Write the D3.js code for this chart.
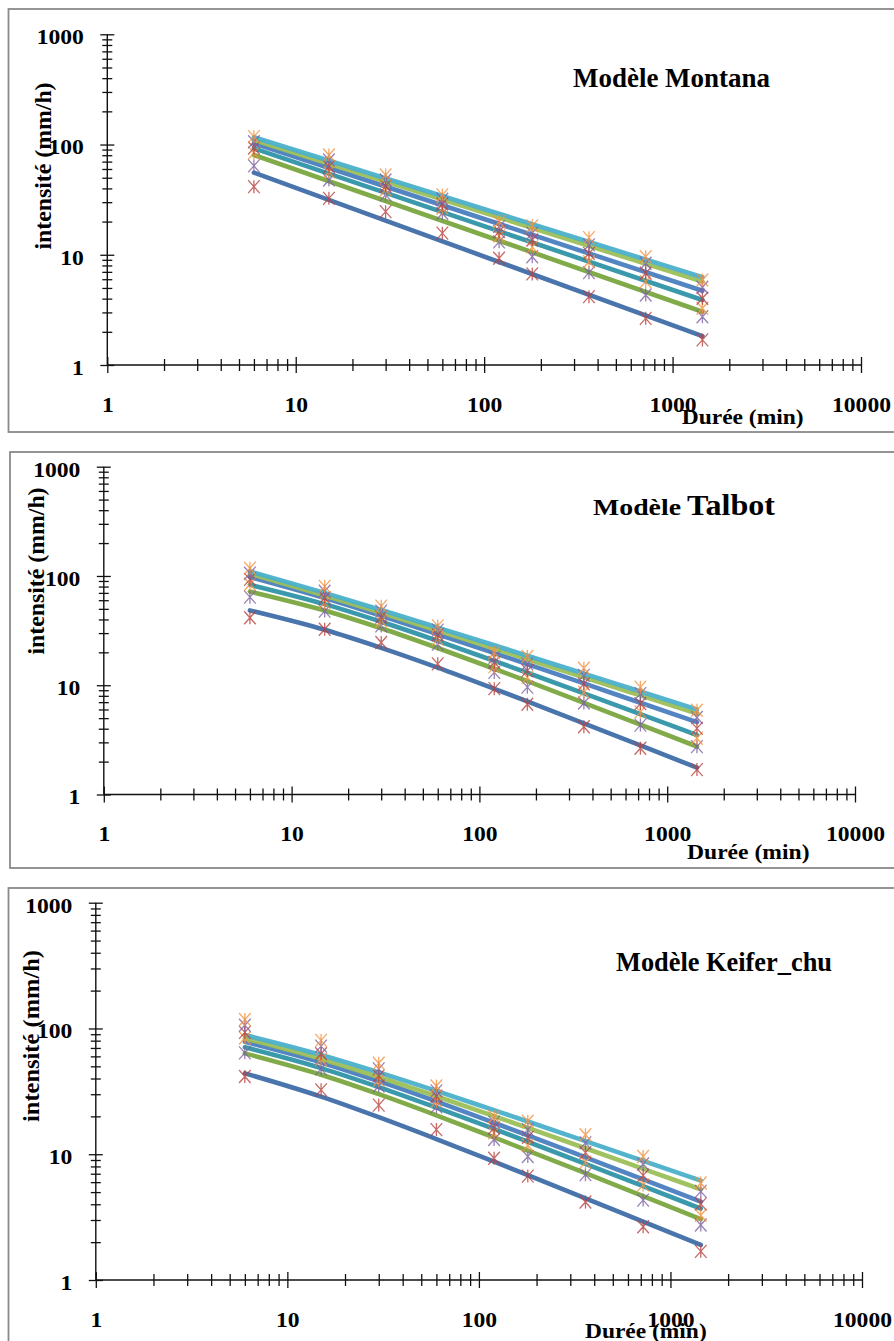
<!DOCTYPE html>
<html>
<head>
<meta charset="utf-8">
<script src="https://cdn.jsdelivr.net/npm/d3@7"></script>
<style>
  body { margin: 0; background: #fff; }
  svg { display: block; }
  text { font-family: "Liberation Serif", "Times New Roman", serif; font-weight: bold; fill: #000; }
</style>
</head>
<body>
<svg id="chart" width="894" height="1341"></svg>
<script>
// Durations (min) at which intensities were observed
const durees = [6, 15, 30, 60, 120, 180, 360, 720, 1440];

// Observed intensities (mm/h), one array per return period, lowest to highest
const obs1 = [41.5, 32.5, 24.6, 15.7, 9.3, 6.7, 4.17, 2.65, 1.69];
const obs2 = [64, 47.7, 34.9, 23.8, 13.1, 9.6, 6.88, 4.32, 2.74];
const obs3 = [84, 56.7, 38.7, 26.4, 14.8, 11.8, 8.65, 5.7, 3.27];
const obs4 = [93, 63, 42, 28.9, 16.2, 13.6, 10.3, 6.79, 4.03];
const obs5 = [106, 72.4, 47.7, 31.9, 18, 15.7, 12.3, 8.37, 5.07];
const obs6 = [117.8, 80.4, 52.9, 34.9, 19.95, 18.3, 14.3, 9.6, 5.9];

// Montana fits are straight in log-log space: values at both ends of the range
const dureesMontana = [6, 1440];
const montana1 = [55.6, 1.83];
const montana2 = [80.4, 3.04];
const montana3 = [92.4, 3.89];
const montana4 = [102.6, 4.72];
const montana5 = [110, 5.7];
const montana6 = [116.4, 6.25];

// Talbot fitted intensities at each duration
const talbot1 = [48.4, 32.2, 22.0, 14.5, 9.28, 7.11, 4.48, 2.81, 1.76];
const talbot2 = [72, 48.3, 33.2, 21.9, 14.15, 10.9, 6.91, 4.36, 2.75];
const talbot3 = [83, 55.2, 38.1, 25.5, 16.7, 13.0, 8.42, 5.43, 3.5];
const talbot4 = [98, 62.9, 43.3, 29.3, 19.7, 15.6, 10.4, 6.91, 4.6];
const talbot5 = [104.8, 66.3, 46.0, 31.6, 21.7, 17.3, 11.83, 8.07, 5.5];
const talbot6 = [110, 70.0, 48.8, 33.7, 23.2, 18.63, 12.78, 8.76, 6.0];

// Keifer-Chu fitted intensities at each duration
const keifer1 = [44, 28.7, 19.7, 13.2, 8.72, 6.82, 4.46, 2.91, 1.9];
const keifer2 = [63.4, 42.9, 30.05, 20.4, 13.6, 10.7, 7.07, 4.65, 3.05];
const keifer3 = [70.8, 48.4, 34.2, 23.5, 15.9, 12.57, 8.38, 5.57, 3.7];
const keifer4 = [78.4, 53.7, 38.1, 26.3, 17.8, 14.12, 9.45, 6.31, 4.2];
const keifer5 = [83.4, 57.2, 41.1, 28.9, 20.1, 16.19, 11.15, 7.66, 5.26];
const keifer6 = [88.6, 61.6, 44.8, 31.9, 22.4, 18.2, 12.7, 8.85, 6.16];

// Axis ticks
const xMajor = [1, 10, 100, 1000, 10000];
const yMajor = [1, 10, 100, 1000];
const xMinor = [2,3,4,5,6,7,8,9,20,30,40,50,60,70,80,90,200,300,400,500,600,700,800,900,2000,3000,4000,5000,6000,7000,8000,9000];
const yMinor = [2,3,4,5,6,7,8,9,20,30,40,50,60,70,80,90,200,300,400,500,600,700,800,900];

// Axis titles
const yTitle = "intensité (mm/h)";
const xTitle = "Durée (min)";

const observed = [obs1, obs2, obs3, obs4, obs5, obs6];
const lineColors = ["#3F6EA8", "#7AA73F", "#2F94A7", "#4B7EC0", "#9CBF57", "#4BB0CA"];
const markerColors = ["#B8423F", "#7E62A3", "#F4923F", "#B8423F", "#7E62A3", "#F4923F"];

const panels = [
  { frameX: 8.5, frameY: 9, frameB: 432, x0: 107.3, x1: 861, yTop: 34.3, yBot: 365,
    yLab: [51, 166, 167], xLab: [681.7, 424, 122],
    title: [{ t: "Modèle Montana", size: 28, x: 573, w: 197 }], titleY: 87,
    xs: dureesMontana, fits: [montana1, montana2, montana3, montana4, montana5, montana6], smooth: false },
  { frameX: 10, frameY: 452, frameB: 868, x0: 103.8, x1: 855, yTop: 466.7, yBot: 794.5,
    yLab: [44, 571, 167], xLab: [687, 859, 122.5],
    title: [{ t: "Modèle", size: 24, x: 593, w: 88 }, { t: "Talbot", size: 30, x: 687, w: 88 }], titleY: 515,
    xs: durees, fits: [talbot1, talbot2, talbot3, talbot4, talbot5, talbot6], smooth: true },
  { frameX: 8.5, frameY: 888, frameB: 1400, x0: 95.8, x1: 862, yTop: 902.7, yBot: 1280,
    yLab: [38.5, 1036, 172], xLab: [585, 1338, 121.7],
    title: [{ t: "Modèle Keifer_chu", size: 27, x: 616, w: 216 }], titleY: 971,
    xs: durees, fits: [keifer1, keifer2, keifer3, keifer4, keifer5, keifer6], smooth: true }
];

const svg = d3.select("#chart");
svg.append("rect").attr("width", 894).attr("height", 1341).attr("fill", "#fff");

const star = "M0,-6.5V6.5M-5.8,-6.5L5.8,6.5M-5.8,6.5L5.8,-6.5";
const SX = 1.18;

panels.forEach(p => {
  const g = svg.append("g");

  g.append("rect")
    .attr("x", p.frameX).attr("y", p.frameY)
    .attr("width", 960).attr("height", p.frameB - p.frameY)
    .attr("fill", "none").attr("stroke", "#8a8a8a").attr("stroke-width", 1.8);

  const x = d3.scaleLog().domain([1, 10000]).range([p.x0, p.x1]);
  const y = d3.scaleLog().domain([1, 1000]).range([p.yBot, p.yTop]);

  // x axis
  const xa = g.append("g").attr("transform", `translate(0,${p.yBot})`)
    .call(d3.axisBottom(x).tickValues(xMajor.concat(xMinor))
      .tickFormat(d => xMajor.includes(d) ? String(d) : "").tickSizeOuter(0));
  xa.select(".domain").attr("stroke", "#111").attr("stroke-width", 1.4).attr("d", `M${p.x0},0H${p.x1}`);
  xa.selectAll(".tick line").attr("stroke", "#111").attr("stroke-width", 1.3)
    .attr("y1", d => xMajor.includes(d) ? -8 : -6).attr("y2", d => xMajor.includes(d) ? 8 : 6);
  xa.selectAll(".tick text").attr("font-size", 20).attr("fill", "#000")
    .attr("font-family", null).attr("y", 47).attr("dy", null)
    .attr("transform", `scale(${SX},1)`);

  // y axis
  const ya = g.append("g").attr("transform", `translate(${p.x0},0)`)
    .call(d3.axisLeft(y).tickValues(yMajor.concat(yMinor))
      .tickFormat(d => yMajor.includes(d) ? String(d) : "").tickSizeOuter(0));
  ya.select(".domain").attr("stroke", "#111").attr("stroke-width", 1.4).attr("d", `M0,${p.yTop}V${p.yBot}`);
  ya.selectAll(".tick line").attr("stroke", "#111").attr("stroke-width", 1.3)
    .attr("x1", d => yMajor.includes(d) ? -7 : -5).attr("x2", d => yMajor.includes(d) ? 7 : 5);
  ya.selectAll(".tick text").attr("font-size", 20).attr("fill", "#000")
    .attr("font-family", null).attr("x", -23.5 / SX).attr("dy", "0.47em")
    .attr("transform", `scale(${SX},1)`);

  // fitted model curves
  const line = d3.line()
    .x((d, i) => x(p.xs[i])).y(d => y(d))
    .curve(p.smooth ? d3.curveMonotoneX : d3.curveLinear);
  p.fits.forEach((f, k) => {
    g.append("path").attr("d", line(f)).attr("fill", "none")
      .attr("stroke", lineColors[k]).attr("stroke-width", 4.6)
      .attr("stroke-linecap", "round").attr("opacity", 0.95);
  });

  // observed intensities
  observed.forEach((s, k) => {
    g.append("g").selectAll("path").data(s).join("path")
      .attr("transform", (d, i) => `translate(${x(durees[i])},${y(d)})`)
      .attr("d", star).attr("fill", "none")
      .attr("stroke", markerColors[k]).attr("stroke-width", 1.3).attr("opacity", 0.8);
  });

  // axis titles
  g.append("text").text(yTitle)
    .attr("transform", `translate(${p.yLab[0]},${p.yLab[1]}) rotate(-90)`)
    .attr("text-anchor", "middle").attr("font-size", 23)
    .attr("textLength", p.yLab[2]).attr("lengthAdjust", "spacingAndGlyphs");
  g.append("text").text(xTitle)
    .attr("x", p.xLab[0]).attr("y", p.xLab[1]).attr("font-size", 21)
    .attr("textLength", p.xLab[2]).attr("lengthAdjust", "spacingAndGlyphs");

  // model title
  p.title.forEach(s => {
    g.append("text").text(s.t).attr("x", s.x).attr("y", p.titleY)
      .attr("font-size", s.size)
      .attr("textLength", s.w).attr("lengthAdjust", "spacingAndGlyphs");
  });
});
</script>
</body>
</html>
